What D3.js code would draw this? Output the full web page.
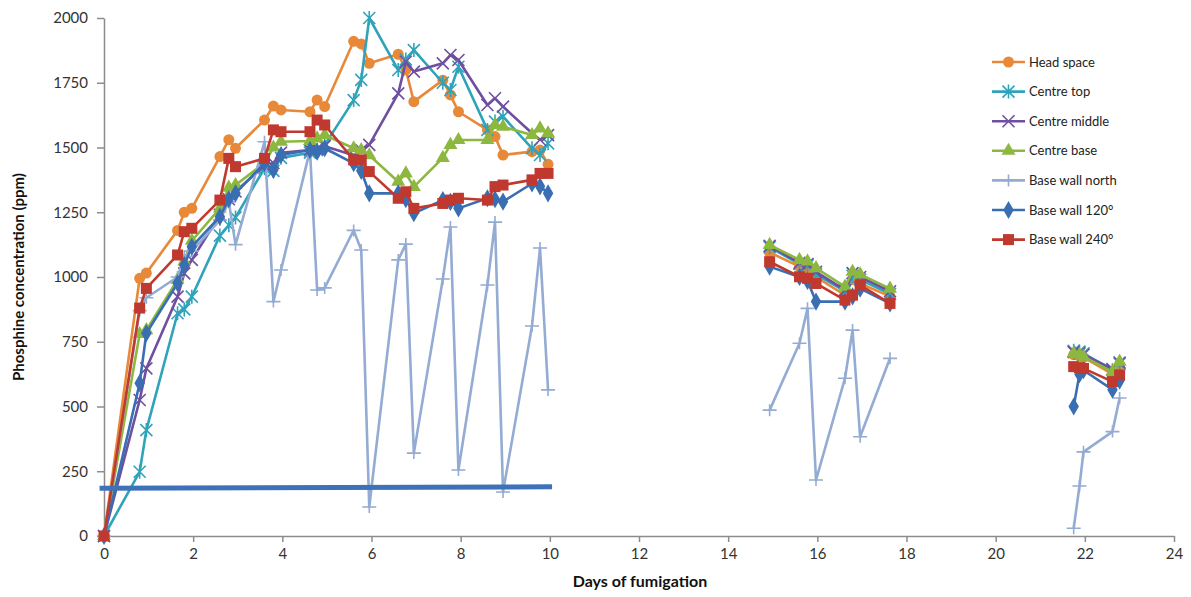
<!DOCTYPE html>
<html lang="en">
<head>
  <meta charset="utf-8">
  <script src="https://d3js.org/d3.v7.min.js"></script>
  <style>
    body, html {
      margin: 0;
      padding: 0;
      background: #fff;
    }
    text {
      font-family: Lato, "Open Sans", sans-serif;
    }
    .axis path, .axis line {
      stroke: #8c8c8c;
      stroke-width: 1.5px;
    }
    .axis text {
      font-size: 15px;
      fill: #333;
    }
  </style>
</head>
<body>
<svg id="chart" width="1191" height="597"></svg>

<script>
  // sampling days, null = break between fumigation periods
  var days = [0, 0.8, 0.95, 1.65, 1.8, 1.97, 2.6, 2.8, 2.95, 3.6, 3.8, 3.97, 4.62, 4.78, 4.95,
              5.6, 5.77, 5.95, 6.6, 6.77, 6.95, 7.6, 7.77, 7.95, 8.6, 8.77, 8.95, 9.6, 9.78, 9.96,
              null,
              14.93, 15.6, 15.78, 15.97, 16.62, 16.79, 16.96, 17.63,
              null,
              21.75, 21.88, 21.97, 22.62, 22.78];

  var headSpace = [0, 995, 1015, 1180, 1250, 1265, 1465, 1530, 1497, 1606, 1660, 1645, 1638, 1683, 1658,
                   1910, 1900, 1825, 1860, 1800, 1677, 1760, 1703, 1638, 1568, 1542, 1471, 1484, 1490, 1435,
                   null,
                   1095, 1040, 1030, 1000, 930, 990, 975, 925,
                   null,
                   700, 695, 690, 625, 660];

  var centreTop = [0, 248, 409, 860, 875, 924, 1160, 1200, 1230, 1420, 1410, 1460, 1480, 1490, 1510,
                   1683, 1761, 2000, 1799, 1840, 1876, 1750, 1722, 1812, 1568, 1600, 1619, 1497, 1471, 1516,
                   null,
                   1115, 1050, 1045, 1010, 945, 1005, 990, 935,
                   null,
                   715, 712, 705, 640, 665];

  var centreMiddle = [0, 525, 647, 924, 1014, 1066, 1240, 1300, 1330, 1430, 1440, 1480, 1490, 1495, 1505,
                      1470, 1490, 1510, 1709, 1831, 1793, 1825, 1857, 1838, 1664, 1690, 1658, 1555, 1530, 1548,
                      null,
                      1120, 1055, 1050, 1020, 950, 1015, 1000, 945,
                      null,
                      710, 705, 700, 645, 670];

  var centreBase = [0, 780, 795, 990, 1060, 1140, 1265, 1345, 1355, 1440, 1500, 1522, 1525, 1535, 1548,
                    1497, 1490, 1470, 1368, 1400, 1348, 1460, 1510, 1529, 1529, 1587, 1580, 1548, 1574, 1555,
                    null,
                    1124, 1066, 1060, 1034, 963, 1020, 1010, 955,
                    null,
                    705, 700, 692, 634, 673];

  var baseWallNorth = [0, 870, 920, 1000, 1080, 1100, 1220, 1290, 1125, 1522, 905, 1027, 1490, 950, 958,
                       1180, 1104, 112, 1066, 1127, 320, 992, 1193, 255, 969, 1212, 170, 811, 1112, 564,
                       null,
                       486, 744, 879, 216, 609, 795, 383, 686,
                       null,
                       30, 193, 325, 403, 533];

  var baseWall120 = [0, 590, 783, 976, 1046, 1117, 1233, 1300, 1323, 1440, 1413, 1471, 1490, 1484, 1497,
                     1439, 1410, 1323, 1323, 1300, 1246, 1297, 1290, 1265, 1304, 1300, 1291, 1361, 1350, 1323,
                     null,
                     1040, 1000, 985, 905, 905, 925, 955, 898,
                     null,
                     500, 625, 640, 565, 600];

  var baseWall240 = [0, 880, 956, 1085, 1175, 1188, 1297, 1458, 1426, 1458, 1568, 1561, 1561, 1606, 1587,
                     1452, 1452, 1407, 1304, 1329, 1265, 1284, 1297, 1304, 1297, 1349, 1355, 1375, 1400, 1400,
                     null,
                     1059, 1001, 995, 975, 911, 930, 969, 898,
                     null,
                     654, 650, 647, 596, 622];

  // flat reference line near 185 ppm over the first period
  var refDays = [-0.1, 10.05];
  var refLevel = [184, 190];

  var seriesNames = ["Head space", "Centre top", "Centre middle", "Centre base",
                     "Base wall north", "Base wall 120°", "Base wall 240°"];
  var seriesValues = [headSpace, centreTop, centreMiddle, centreBase,
                      baseWallNorth, baseWall120, baseWall240];
  var colors = ["#E8893A", "#2FA3BA", "#6E4FA0", "#8DB83F", "#94ABD3", "#3A6EB2", "#C0392E"];
  var markers = ["circle", "asterisk", "cross", "triangle", "plus", "diamond", "square"];

  var xTicks = [0, 2, 4, 6, 8, 10, 12, 14, 16, 18, 20, 22, 24];
  var yTicks = [0, 250, 500, 750, 1000, 1250, 1500, 1750, 2000];

  var svg = d3.select("#chart");

  var x = d3.scaleLinear().domain([0, 24]).range([104, 1174]);
  var y = d3.scaleLinear().domain([0, 2000]).range([536, 18]);

  // axes
  svg.append("g")
      .attr("class", "axis")
      .attr("transform", "translate(0,536)")
      .call(d3.axisBottom(x).tickValues(xTicks).tickFormat(d3.format("d"))
            .tickSize(6).tickSizeOuter(0).tickPadding(6));

  svg.append("g")
      .attr("class", "axis")
      .attr("transform", "translate(104,0)")
      .call(d3.axisLeft(y).tickValues(yTicks).tickFormat(d3.format("d"))
            .tickSize(7).tickSizeOuter(0).tickPadding(9));

  svg.append("text")
      .attr("transform", "translate(24,277) rotate(-90)")
      .attr("text-anchor", "middle")
      .style("font-size", "15px")
      .style("font-weight", "bold")
      .attr("fill", "#111")
      .text("Phosphine concentration (ppm)");

  svg.append("text")
      .attr("x", 640)
      .attr("y", 587)
      .attr("text-anchor", "middle")
      .style("font-size", "16px")
      .style("font-weight", "bold")
      .attr("fill", "#111")
      .text("Days of fumigation");

  // marker drawing
  function drawMarker(sel, type, color) {
    if (type == "circle") {
      sel.append("circle").attr("r", 5.5).attr("fill", color);
    } else if (type == "square") {
      sel.append("rect").attr("x", -5.5).attr("y", -5.5).attr("width", 11).attr("height", 11).attr("fill", color);
    } else if (type == "diamond") {
      sel.append("path").attr("d", d3.symbol().type(d3.symbolDiamond).size(95)).attr("fill", color);
    } else if (type == "triangle") {
      sel.append("path").attr("d", d3.symbol().type(d3.symbolTriangle).size(85)).attr("fill", color);
    } else if (type == "asterisk") {
      sel.append("path").attr("d", "M-6,-6L6,6M-6,6L6,-6M0,-7L0,7")
         .attr("stroke", color).attr("stroke-width", 1.6).attr("fill", "none");
    } else if (type == "cross") {
      sel.append("path").attr("d", "M-6,-6L6,6M-6,6L6,-6")
         .attr("stroke", color).attr("stroke-width", 1.6).attr("fill", "none");
    } else if (type == "plus") {
      sel.append("path").attr("d", "M-7,0L7,0M0,-6L0,6")
         .attr("stroke", color).attr("stroke-width", 1.6).attr("fill", "none");
    }
  }

  var line = d3.line()
      .defined(function(d) { return d.v != null; })
      .x(function(d) { return x(d.t); })
      .y(function(d) { return y(d.v); });

  seriesNames.forEach(function(name, i) {
    var pts = days.map(function(t, j) { return {t: t, v: seriesValues[i][j]}; });
    var g = svg.append("g").attr("class", "series");

    g.append("path")
        .datum(pts)
        .attr("d", line)
        .attr("fill", "none")
        .attr("stroke", colors[i])
        .attr("stroke-width", 2.6)
        .attr("stroke-linejoin", "round");

    g.selectAll(".pt")
        .data(pts.filter(function(d) { return d.v != null; }))
        .enter().append("g")
        .attr("class", "pt")
        .attr("transform", function(d) { return "translate(" + x(d.t) + "," + y(d.v) + ")"; })
        .each(function() { drawMarker(d3.select(this), markers[i], colors[i]); });
  });

  // reference line
  svg.append("path")
      .datum(refDays.map(function(t, j) { return {t: t, v: refLevel[j]}; }))
      .attr("d", line)
      .attr("stroke", "#3D72B8")
      .attr("stroke-width", 5)
      .attr("fill", "none");

  // legend
  var legend = svg.append("g").attr("transform", "translate(992,62)");
  seriesNames.forEach(function(name, i) {
    var row = legend.append("g").attr("transform", "translate(0," + (i * 29.6) + ")");
    row.append("line")
        .attr("x1", 0).attr("x2", 33)
        .attr("stroke", colors[i])
        .attr("stroke-width", 2.6);
    drawMarker(row.append("g").attr("transform", "translate(16.5,0)"), markers[i], colors[i]);
    row.append("text")
        .attr("x", 37)
        .attr("dy", "0.35em")
        .style("font-size", "13px")
        .attr("fill", "#222")
        .text(name);
  });
</script>
</body>
</html>
